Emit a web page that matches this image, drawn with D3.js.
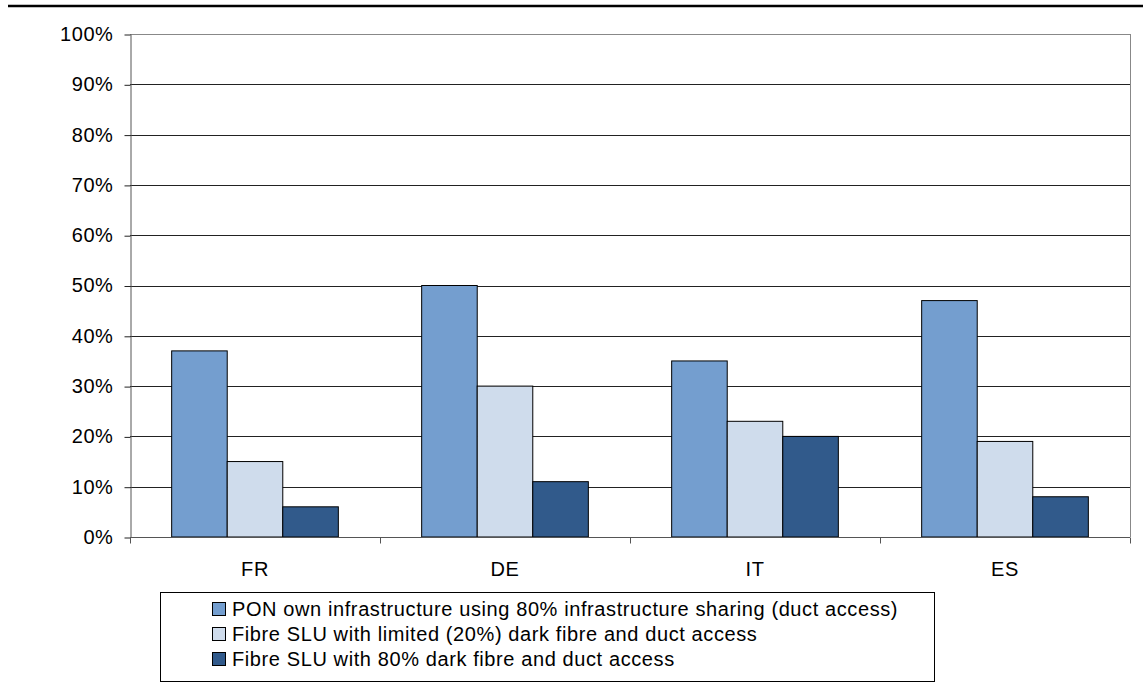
<!DOCTYPE html>
<html>
<head>
<meta charset="utf-8">
<script src="https://cdn.jsdelivr.net/npm/d3@7"></script>
<style>
  body { margin: 0; background: #fff; }
  svg text { font-family: "Liberation Sans", Arial, sans-serif; fill: #000; letter-spacing: 0.6px; }
</style>
</head>
<body>
<div class="infographic"></div>
<script>
// data
var countries = ["FR", "DE", "IT", "ES"];
var seriesNames = [
  "PON own infrastructure using 80% infrastructure sharing (duct access)",
  "Fibre SLU with limited (20%) dark fibre and duct access",
  "Fibre SLU with 80% dark fibre and duct access"
];
var ponShare = [0.37, 0.50, 0.35, 0.47];
var sluLimited = [0.15, 0.30, 0.23, 0.19];
var slu80 = [0.06, 0.11, 0.20, 0.08];
var yTicks = [0, 0.1, 0.2, 0.3, 0.4, 0.5, 0.6, 0.7, 0.8, 0.9, 1];
var colors = ["#749ECF", "#CFDCEC", "#315A8B"];

var width = 1143, height = 683;
var plot = {left: 130, right: 1130, top: 34, bottom: 537};
var fontSize = "20px";

var svg = d3.select(".infographic")
    .append("svg")
    .attr("width", width)
    .attr("height", height);

// heavy rule at the top of the page
svg.append("line")
    .attr("x1", 8).attr("x2", 1143)
    .attr("y1", 6).attr("y2", 6)
    .style("stroke", "#000")
    .style("stroke-width", 2.5);

var x0 = d3.scaleBand()
    .domain(countries)
    .range([plot.left, plot.right]);

var x1 = d3.scaleBand()
    .domain(d3.range(seriesNames.length))
    .range([0, x0.bandwidth()])
    .paddingOuter(0.75)
    .paddingInner(0);

var y = d3.scaleLinear()
    .domain([0, 1])
    .range([plot.bottom, plot.top]);

// gridlines
svg.append("g")
    .attr("class", "grid")
  .selectAll("line")
    .data(yTicks.filter(function(d){ return d > 0; }))
  .enter().append("line")
    .attr("x1", plot.left).attr("x2", plot.right)
    .attr("y1", function(d){ return Math.round(y(d)) + 0.5; })
    .attr("y2", function(d){ return Math.round(y(d)) + 0.5; })
    .style("stroke", function(d){ return d === 1 ? "#888" : "#222"; })
    .style("stroke-width", 1);

// right border
svg.append("line")
    .attr("x1", plot.right + 0.5).attr("x2", plot.right + 0.5)
    .attr("y1", plot.top).attr("y2", plot.bottom)
    .style("stroke", "#888");

// bars
var rows = countries.map(function(c, i){
  return {country: c, values: [ponShare[i], sluLimited[i], slu80[i]]};
});

svg.append("g")
    .attr("class", "bars")
  .selectAll("g")
    .data(rows)
  .enter().append("g")
    .attr("transform", function(d){ return "translate(" + x0(d.country) + ",0)"; })
  .selectAll("rect")
    .data(function(d){ return d.values; })
  .enter().append("rect")
    .attr("x", function(d, i){ return x1(i); })
    .attr("y", function(d){ return y(d); })
    .attr("width", x1.bandwidth())
    .attr("height", function(d){ return y(0) - y(d); })
    .style("fill", function(d, i){ return colors[i]; })
    .style("stroke", "#000")
    .style("stroke-width", 1);

// y axis
var yAxis = svg.append("g")
    .attr("class", "y-axis")
    .attr("transform", "translate(" + (plot.left + 0.5) + ",0)")
    .call(d3.axisLeft(y)
      .tickValues(yTicks)
      .tickFormat(d3.format(".0%"))
      .tickSize(6)
      .tickSizeOuter(0)
      .tickPadding(11));
yAxis.select(".domain").style("stroke", "#555");
yAxis.selectAll(".tick line").style("stroke", "#222")
    .attr("transform", "translate(0,0.5)");
yAxis.selectAll("text")
    .style("font-size", fontSize)
    .style("font-family", "'Liberation Sans', Arial, sans-serif")
    .style("fill", "#000");

// x axis (ticks at category boundaries)
var xAxisG = svg.append("g")
    .attr("class", "x-axis")
    .attr("transform", "translate(0," + (plot.bottom + 0.5) + ")");
xAxisG.append("line")
    .attr("x1", plot.left).attr("x2", plot.right)
    .style("stroke", "#555");
xAxisG.selectAll(".bound")
    .data(countries.concat(["end"]))
  .enter().append("line")
    .attr("x1", function(d, i){ return Math.round(plot.left + i * x0.bandwidth()) + 0.5; })
    .attr("x2", function(d, i){ return Math.round(plot.left + i * x0.bandwidth()) + 0.5; })
    .attr("y1", 0).attr("y2", 6)
    .style("stroke", "#555");
xAxisG.selectAll(".label")
    .data(countries)
  .enter().append("text")
    .attr("x", function(d){ return x0(d) + x0.bandwidth() / 2; })
    .attr("y", 38)
    .attr("text-anchor", "middle")
    .style("font-size", fontSize)
    .text(function(d){ return d; });

// legend
var legend = svg.append("g").attr("class", "legend");
legend.append("rect")
    .attr("x", 160.5).attr("y", 592.5)
    .attr("width", 774).attr("height", 89)
    .style("fill", "#fff")
    .style("stroke", "#000");

var item = legend.selectAll(".item")
    .data(seriesNames)
  .enter().append("g")
    .attr("transform", function(d, i){ return "translate(212," + (609 + i * 25) + ")"; });
item.append("rect")
    .attr("x", 0.5).attr("y", -6.5)
    .attr("width", 13).attr("height", 13)
    .style("fill", function(d, i){ return colors[i]; })
    .style("stroke", "#000");
item.append("text")
    .attr("x", 20)
    .attr("y", 7)
    .style("font-size", fontSize)
    .text(function(d){ return d; });
</script>
</body>
</html>
